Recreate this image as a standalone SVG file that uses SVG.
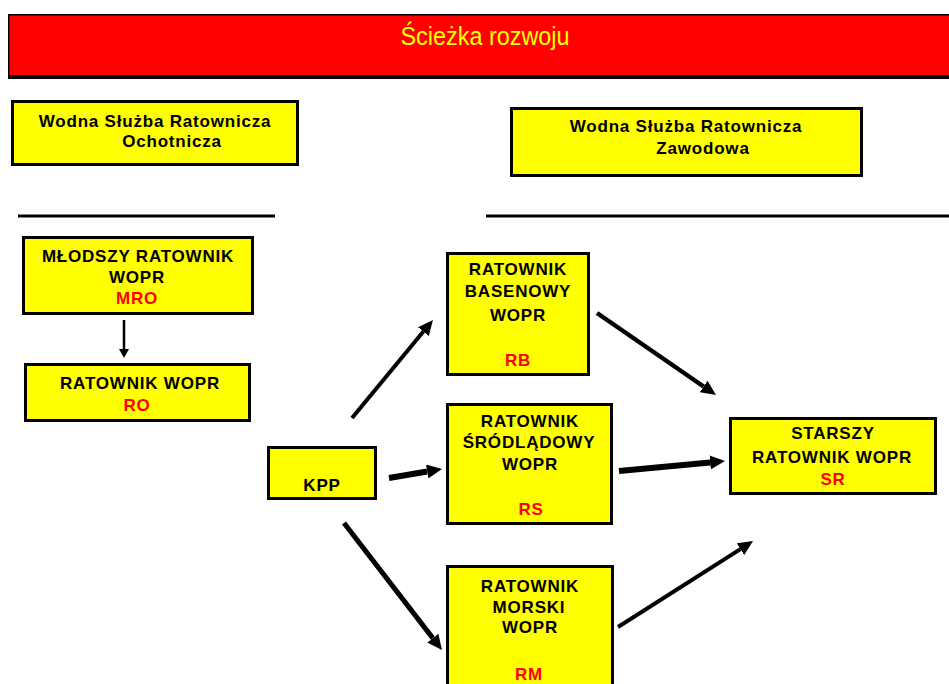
<svg xmlns="http://www.w3.org/2000/svg" width="949" height="684" viewBox="0 0 949 684">
<style>
.box{fill:#FFFF00;stroke:#000;stroke-width:3}
.t{font-family:"Liberation Sans",Arial,sans-serif;font-weight:bold;font-size:17px;letter-spacing:0.8px;text-anchor:middle;fill:#000}
.r{fill:#FF0000}
.c{stroke:#000;fill:none}
.sep{stroke:#000;stroke-width:3}
</style>
<defs>
<marker id="ah" markerUnits="userSpaceOnUse" markerWidth="15" markerHeight="14" viewBox="0 0 15 14" refX="0" refY="7" orient="auto"><path d="M0,0 L15,7 L0,14 z" fill="#000"/></marker>
<marker id="ahs" markerUnits="userSpaceOnUse" markerWidth="9" markerHeight="10" viewBox="0 0 9 10" refX="0" refY="5" orient="auto"><path d="M0,0 L9,5 L0,10 z" fill="#000"/></marker>
</defs>
<g id="title">
<rect x="8" y="17" width="960" height="62" fill="#000"/>
<rect x="8.75" y="14.75" width="960" height="61" fill="#FF0000" stroke="#000" stroke-width="1.5"/>
<text x="485" y="45" font-family="'Liberation Sans',Arial,sans-serif" font-size="25" fill="#FFFF00" text-anchor="middle" textLength="169" lengthAdjust="spacingAndGlyphs">Ścieżka rozwoju</text>
</g>
<g id="sep-left"><line class="sep" x1="18" y1="216" x2="275" y2="216"/></g>
<g id="sep-right"><line class="sep" x1="486" y1="216" x2="949" y2="216"/></g>
<g id="wsr-ochotnicza">
<rect class="box" x="12.5" y="101.5" width="285" height="63"/>
<text class="t" x="155" y="127">Wodna Służba Ratownicza</text>
<text class="t" x="172" y="147">Ochotnicza</text>
</g>
<g id="wsr-zawodowa">
<rect class="box" x="511.5" y="108.5" width="350" height="67"/>
<text class="t" x="686" y="132">Wodna Służba Ratownicza</text>
<text class="t" x="703" y="154">Zawodowa</text>
</g>
<g id="mro">
<rect class="box" x="23.5" y="237.5" width="229" height="76"/>
<text class="t" x="138" y="262">MŁODSZY RATOWNIK</text>
<text class="t" x="137" y="283">WOPR</text>
<text class="t r" x="137" y="304">MRO</text>
</g>
<g id="ro">
<rect class="box" x="25.5" y="364.5" width="224" height="56"/>
<text class="t" x="140" y="389">RATOWNIK WOPR</text>
<text class="t r" x="137" y="411">RO</text>
</g>
<g id="kpp">
<rect class="box" x="268.5" y="447.5" width="107" height="51"/>
<text class="t" x="322" y="491">KPP</text>
</g>
<g id="rb">
<rect class="box" x="447.5" y="253.5" width="141" height="121"/>
<text class="t" x="518" y="275">RATOWNIK</text>
<text class="t" x="518" y="297">BASENOWY</text>
<text class="t" x="518" y="321">WOPR</text>
<text class="t r" x="518" y="366">RB</text>
</g>
<g id="rs">
<rect class="box" x="447.5" y="404.5" width="164" height="119"/>
<text class="t" x="530" y="427">RATOWNIK</text>
<text class="t" x="529" y="448">ŚRÓDLĄDOWY</text>
<text class="t" x="530" y="470">WOPR</text>
<text class="t r" x="531" y="515">RS</text>
</g>
<g id="rm">
<rect class="box" x="447.5" y="566.5" width="165" height="130"/>
<text class="t" x="530" y="592">RATOWNIK</text>
<text class="t" x="529" y="613">MORSKI</text>
<text class="t" x="530" y="633">WOPR</text>
<text class="t r" x="529" y="680">RM</text>
</g>
<g id="sr">
<rect class="box" x="730.5" y="418.5" width="205" height="75"/>
<text class="t" x="833" y="439">STARSZY</text>
<text class="t" x="832" y="463">RATOWNIK WOPR</text>
<text class="t r" x="833" y="485">SR</text>
</g>
<g id="connectors">
<line class="c" x1="124" y1="320" x2="124" y2="349" stroke-width="2.5" marker-end="url(#ahs)"/>
<line class="c" x1="352" y1="418" x2="423.4" y2="331.6" stroke-width="4" marker-end="url(#ah)"/>
<line class="c" x1="389" y1="478" x2="427.2" y2="471.5" stroke-width="6" marker-end="url(#ah)"/>
<line class="c" x1="344" y1="523" x2="432.8" y2="638.1" stroke-width="5" marker-end="url(#ah)"/>
<line class="c" x1="597" y1="313" x2="703.6" y2="386.5" stroke-width="4.5" marker-end="url(#ah)"/>
<line class="c" x1="619" y1="471" x2="710.1" y2="462.4" stroke-width="6" marker-end="url(#ah)"/>
<line class="c" x1="618" y1="627" x2="740.4" y2="549.1" stroke-width="4" marker-end="url(#ah)"/>
</g>
</svg>
